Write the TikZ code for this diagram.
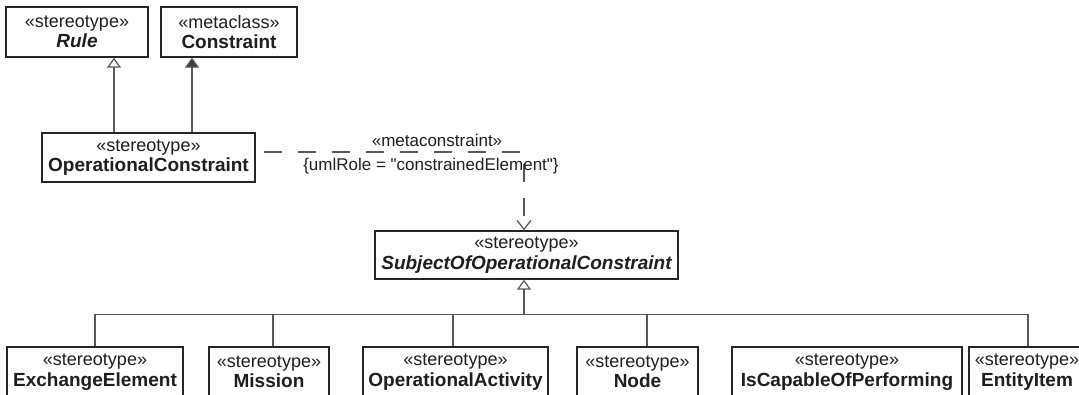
\documentclass[tikz,border=0pt]{standalone}
\usepackage{fontspec}
\setmainfont{Liberation Sans}[Ligatures=TeXOff]
\usetikzlibrary{arrows.meta}
\newcommand{\nm}[1]{{\fontsize{19}{20.5}\selectfont\bfseries #1}}
\begin{document}
\begin{tikzpicture}[x=1pt,y=-1pt,
  box/.style={draw=black!85, line width=1.4pt, fill=white, align=center, inner sep=0pt,
    font=\fontsize{18}{20.5}\selectfont, text=black!88},
  conn/.style={draw=black!65, line width=1.3pt},
  gen/.style={conn, -{Triangle[open, length=10pt, width=14pt, line width=1.2pt]}},
  fgen/.style={conn, -{Triangle[length=10pt, width=14pt, fill=black!75, line width=1.2pt]}},
  dep/.style={conn, dash pattern=on 18pt off 16pt, dash phase=26pt,
    -{Straight Barb[length=9pt, width=14pt, line width=1.2pt]}},
  lbl/.style={font=\fontsize{17}{19}\selectfont, text=black!88, inner sep=0pt}
]
\clip (0,0) rectangle (1079,395);
\fill[white] (0,0) rectangle (1079,395);

% top row
\node[box, minimum width=142pt, minimum height=50pt] (rule) at (77,32)
  {«stereotype»\\\nm{\itshape Rule}};
\node[box, minimum width=136pt, minimum height=50pt] (con) at (229,32)
  {«metaclass»\\\nm{Constraint}};
\node[box, minimum width=213pt, minimum height=49pt] (opc) at (148.5,157.5)
  {«stereotype»\\\nm{OperationalConstraint}};
\node[box, minimum width=303pt, minimum height=48pt] (sub) at (526.5,255)
  {«stereotype»\\\nm{\itshape SubjectOfOperationalConstraint}};

% bottom row
\node[box, minimum width=176pt, minimum height=50pt] (ex) at (95,372)
  {«stereotype»\\\nm{ExchangeElement}};
\node[box, minimum width=120pt, minimum height=50pt] (mi) at (269,372)
  {«stereotype»\\\nm{Mission}};
\node[box, minimum width=185pt, minimum height=50pt] (oa) at (455.5,372)
  {«stereotype»\\\nm{OperationalActivity}};
\node[box, minimum width=121pt, minimum height=50pt] (no) at (637.5,372)
  {«stereotype»\\\nm{Node}};
\node[box, minimum width=230pt, minimum height=50pt] (ic) at (847,372)
  {«stereotype»\\\nm{IsCapableOfPerforming}};
\node[box, minimum width=116pt, minimum height=50pt] (ei) at (1027,372)
  {«stereotype»\\\nm{EntityItem}};

% generalizations to Rule and Constraint
\path ([xshift=-34.5pt]opc.north) coordinate (g1);
\path ([xshift=43.5pt]opc.north) coordinate (g2);
\draw[gen] (g1) -- (g1 |- rule.south);
\draw[fgen] (g2) -- (g2 |- con.south);

% metaconstraint dependency
\path ([yshift=5.5pt]opc.east) coordinate (d0);
\path ([xshift=-2.5pt]sub.north) coordinate (s0);
\draw[dep] (d0) -| (s0);
\node[lbl] (mc) at (437,140) {«metaconstraint»};
\node[lbl] (ur) at (431,166) {\{umlRole = "constrainedElement"\}};

% generalization tree
\path ([xshift=-2.5pt]sub.south) coordinate (t0);
\path (t0) ++(0,35) coordinate (j);
\draw[gen] (j) -- (t0);
\draw[conn] (ex.north) |- (j);
\draw[conn] ([xshift=4pt]mi.north) |- (j);
\draw[conn] ([xshift=-2.5pt]oa.north) |- (j);
\draw[conn] ([xshift=9.5pt]no.north) |- (j);
\draw[conn] ([xshift=1pt]ei.north) |- (j);
\end{tikzpicture}
\end{document}
